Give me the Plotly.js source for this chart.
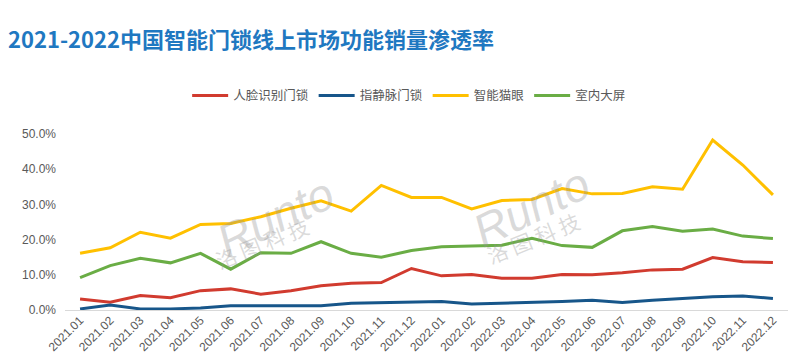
<!DOCTYPE html>
<html>
<head>
<meta charset="utf-8">
<script src="https://cdn.plot.ly/plotly-3.0.1.min.js"></script>
<style>html,body{margin:0;padding:0;background:#fff;}#chart{width:800px;height:364px;}</style>
</head>
<body>
<div id="chart"></div>
<script>
const months = ["2021.01","2021.02","2021.03","2021.04","2021.05","2021.06","2021.07","2021.08","2021.09","2021.10","2021.11","2021.12",
"2022.01","2022.02","2022.03","2022.04","2022.05","2022.06","2022.07","2022.08","2022.09","2022.10","2022.11","2022.12"];
const face = [3.1,2.2,4.1,3.5,5.5,6.0,4.5,5.5,6.9,7.6,7.8,11.8,9.7,10.1,9.0,9.0,10.1,10.0,10.6,11.4,11.6,14.9,13.7,13.5];
const vein = [0.3,1.4,0.3,0.3,0.6,1.2,1.2,1.2,1.2,1.9,2.0,2.2,2.4,1.7,1.9,2.1,2.4,2.8,2.1,2.8,3.3,3.8,4.0,3.3];
const eye = [16.1,17.7,22.1,20.4,24.3,24.6,26.5,28.9,31.0,28.1,35.4,32.0,32.0,28.7,31.1,31.4,34.5,33.0,33.1,35.0,34.3,48.3,41.2,32.7];
const screen = [9.2,12.6,14.7,13.4,16.1,11.6,16.3,16.1,19.4,16.1,15.0,16.9,18.0,18.3,18.4,20.4,18.3,17.8,22.5,23.7,22.4,23.0,21.0,20.3];
const names = ["人脸识别门锁","指静脉门锁","智能猫眼","室内大屏"];
const colors = ["#d13b2f","#17568a","#ffc000","#6aad45"];
const series = [face, vein, eye, screen];

const traces = series.map((s,i)=>({
  x: months, y: s.map(v=>v/100), name: names[i], type:'scatter', mode:'lines',
  line:{color:colors[i], width:3}, hoverinfo:'skip'
}));

const wm = (x1,y1,x2,y2)=>[
  {xref:'paper',yref:'paper',x:x1,y:y1,text:'<i>Runto</i>',showarrow:false,textangle:-26,
   font:{family:'Liberation Sans, Arial',size:46,color:'rgba(150,150,150,0.35)'}},
  {xref:'paper',yref:'paper',x:x2,y:y2,text:'洛 图 科 技',showarrow:false,textangle:-22,
   font:{family:'Noto Sans CJK SC',size:21,color:'rgba(150,150,150,0.35)'}}
];

const layout = {
  width:800, height:364,
  margin:{l:65,r:12,t:127,b:54},
  paper_bgcolor:'#fff', plot_bgcolor:'#fff',
  title:{text:'<b>2021-2022中国智能门锁线上市场功能销量渗透率</b>', x:0.01, xanchor:'left', y:0.89, yanchor:'middle',
    font:{family:'Noto Sans CJK SC', size:22, color:'#1f78c1'}},
  showlegend:true,
  legend:{orientation:'h', x:0.476, xanchor:'center', y:1.17, yanchor:'middle',
    font:{family:'Noto Sans CJK SC', size:12.5, color:'#595959'}, itemwidth:36, traceorder:'normal'},
  xaxis:{type:'category', range:[-0.5,23.5], tickangle:-45, showgrid:false, zeroline:false,
    showline:false, ticks:'', tickfont:{family:'Liberation Sans, Arial', size:12, color:'#595959'}},
  yaxis:{range:[0,0.52], tickvals:[0,0.1,0.2,0.3,0.4,0.5], tickformat:'.1%', showgrid:false,
    zeroline:true, zerolinecolor:'#d9d9d9', zerolinewidth:1, showline:false, ticks:'',
    tickfont:{family:'Liberation Sans, Arial', size:12, color:'#595959'}, ticklabelstandoff:8},
  annotations:[...wm(0.195,0.51,0.198,0.366), ...wm(0.645,0.563,0.647,0.393)]
};
Plotly.newPlot('chart', traces, layout, {displayModeBar:false, staticPlot:true});
</script>
</body>
</html>
